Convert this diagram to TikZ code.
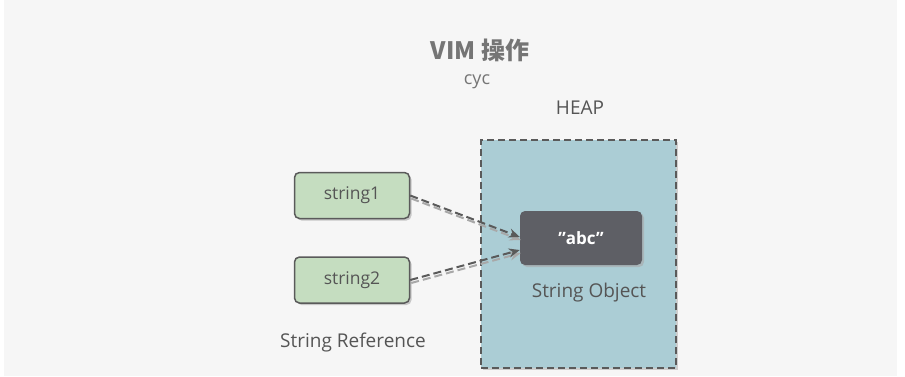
\documentclass[tikz,border=0pt]{standalone}
\usepackage{fontspec}
\setmainfont{Open Sans}
\newfontfamily\cjk{Noto Sans CJK SC}
\usetikzlibrary{arrows.meta,shadows}
\definecolor{bggray}{HTML}{F6F6F6}
\definecolor{txtgray}{HTML}{555555}
\definecolor{ttlgray}{HTML}{757575}
\definecolor{refgreen}{HTML}{C5DDC0}
\definecolor{heapblue}{HTML}{ABCDD5}
\definecolor{objgray}{HTML}{5E5F65}
\definecolor{edgegray}{HTML}{5A5A5A}
\definecolor{shadegray}{HTML}{A8A8A8}

\begin{document}
\begin{tikzpicture}[x=1pt,y=-1pt,>={Stealth[length=11pt,width=9pt]},
  refbox/.style={draw=edgegray,line width=1.5pt,fill=refgreen,rounded corners=5pt,
    minimum width=115pt,minimum height=46pt,text=txtgray,font=\fontsize{17.5}{20}\selectfont,
    drop shadow={shadow xshift=2pt,shadow yshift=-2pt,fill=shadegray,opacity=0.6}},
  objbox/.style={fill=objgray,rounded corners=5pt,minimum width=122pt,minimum height=54pt,
    text=white,font=\fontsize{17}{20}\selectfont\bfseries,
    drop shadow={shadow xshift=2pt,shadow yshift=-2pt,fill=shadegray,opacity=0.6}},
  heapbox/.style={draw=edgegray,line width=2pt,dash pattern=on 7pt off 4pt,fill=heapblue,
    minimum width=195pt,minimum height=228pt,
    drop shadow={shadow xshift=2pt,shadow yshift=-2pt,fill=shadegray,opacity=0.5}},
  label/.style={text=txtgray,font=\fontsize{19}{22}\selectfont},
  refline/.style={->,draw=edgegray,line width=2pt,dash pattern=on 8pt off 4pt},
  refshade/.style={->,draw=shadegray,line width=2pt,dash pattern=on 8pt off 4pt}]
\useasboundingbox (0,0) rectangle (905,376);
\fill[white] (0,0) rectangle (905,376);
\fill[bggray] (4,0) rectangle (897,376);
% titles
\node[text=ttlgray,font=\cjk\fontsize{24}{27}\selectfont\bfseries] (title) at (480,50) {VIM 操作};
\node[text=ttlgray,font=\fontsize{18}{21}\selectfont] (author) at (477,82) {cyc};
% heap
\node[label] (heaplabel) at (580,108) {HEAP};
\node[heapbox] (heap) at (578.5,254) {};
\node[objbox] (abc) at (581,238) {\char"22 abc\char"22};
\node[label] (objlabel) at (589,293) {String Object};
% references
\node[refbox] (s1) at (352,195.5) {string1};
\node[refbox] (s2) at (352,280) {string2};
\node[label] (reflabel) at (353,343) {String Reference};
% connectors
\draw[refshade,transform canvas={shift={(1pt,-3pt)}}] (s1.east) -- ([yshift=1pt]abc.west);
\draw[refshade,transform canvas={shift={(1pt,-3pt)}}] (s2.east) -- ([yshift=-12pt]abc.west);
\draw[refline] (s1.east) -- ([yshift=1pt]abc.west);
\draw[refline] (s2.east) -- ([yshift=-12pt]abc.west);
\end{tikzpicture}
\end{document}
